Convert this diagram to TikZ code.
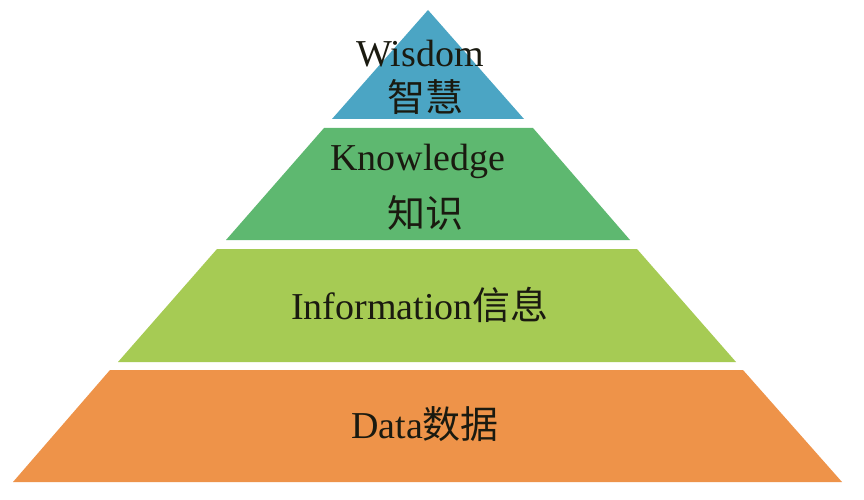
\documentclass[tikz,border=0pt]{standalone}
\usepackage{fontspec}
\setmainfont{Liberation Serif}
\newfontfamily\cjk{Noto Sans CJK SC}
\definecolor{cwis}{HTML}{4BA5C4}
\definecolor{ckno}{HTML}{5EB870}
\definecolor{cinf}{HTML}{A6CB54}
\definecolor{cdat}{HTML}{EE9349}
\definecolor{ctxt}{HTML}{1A1A10}
\begin{document}
\begin{tikzpicture}[x=1pt,y=-1pt,
  lbl/.style={anchor=base,inner sep=0pt,text=ctxt,font=\fontsize{38}{40}\selectfont}]
\useasboundingbox (0,0) rectangle (864,500);
\fill[white] (0,0) rectangle (864,500);
% layers
\fill[cwis] (428,10) -- (524,119) -- (332,119) -- cycle;
\fill[ckno] (324,128) -- (533,128) -- (630,240) -- (226,240) -- cycle;
\fill[cinf] (217,249) -- (637,249) -- (736,362) -- (118,362) -- cycle;
\fill[cdat] (110,370) -- (743,370) -- (842,482) -- (13,482) -- cycle;
% labels
\node[lbl] (w1) at (420,67) {Wisdom};
\node[lbl] (w2) at (425,112) {\cjk 智慧};
\node[lbl] (k1) at (418,170) {Knowledge};
\node[lbl] (k2) at (425,227) {\cjk 知识};
\node[lbl] (i1) at (420,319) {Information{\cjk 信息}};
\node[lbl] (d1) at (425,438) {Data{\cjk 数据}};
\end{tikzpicture}
\end{document}
